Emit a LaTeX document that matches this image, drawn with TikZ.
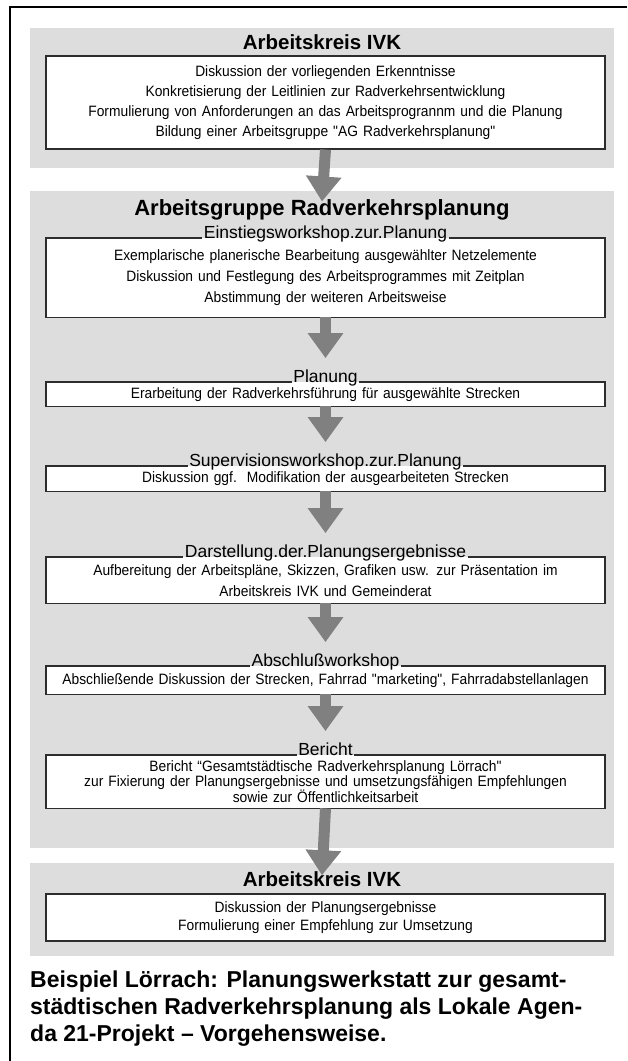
\documentclass[tikz,border=0pt]{standalone}
\usepackage{fontspec}
\setmainfont{Liberation Sans}
\newfontfamily\narrowsf{Liberation Sans}[FakeStretch=0.92]
\usetikzlibrary{arrows.meta}
\definecolor{panelgray}{RGB}{221,221,221}
\definecolor{arrowgray}{RGB}{128,128,128}
\definecolor{rimgray}{RGB}{45,45,45}
\tikzset{
 paneltitle/.style={font=\fontsize{#1}{24}\selectfont\bfseries,inner sep=0pt},
 paneltitle/.default=20.5,
 boxbase/.style={fill=white,text width=557pt,align=center,inner xsep=1pt,inner ysep=0pt,anchor=north,minimum height=#1},
 box/.style={boxbase=#1,draw=rimgray,line width=1.6pt},
 openbox/.style={boxbase=#1,draw=none},
 rim/.style={draw=rimgray,line width=1.6pt},
 body/.style={font=\narrowsf\fontsize{15}{#1}\selectfont},
 steplabel/.style={font=\fontsize{17.5}{19}\selectfont,anchor=base,inner xsep=1.5pt,inner ysep=0pt},
 blockarrow/.style={arrowgray,line width=11pt,-{Triangle[width=34pt,length=25pt]}}
}
\begin{document}
\begin{tikzpicture}[x=1pt,y=-1pt]
 \useasboundingbox (0,0) rectangle (627,1061);
 % Rahmen
 \draw[line width=2pt] (627,7) -- (10,7) -- (10,1061);
 % graue Felder
 \fill[panelgray] (30,28) rectangle (614,168);
 \fill[panelgray] (30,191) rectangle (614,848);
 \fill[panelgray] (30,863) rectangle (614,956);
 % Arbeitskreis IVK
 \node[paneltitle] (t1) at (322,42) {Arbeitskreis IVK};
 \node[box=93pt,body=20] (b1) at (325.5,55) {Diskussion der vorliegenden Erkenntnisse\\Konkretisierung der Leitlinien zur Radverkehrsentwicklung\\Formulierung von Anforderungen an das Arbeitsprogrannm und die Planung\\Bildung einer Arbeitsgruppe "AG Radverkehrsplanung"};
 % Arbeitsgruppe
 \node[paneltitle=22] (t2) at (322,210) {Arbeitsgruppe Radverkehrsplanung};
 \node[openbox=79pt,body=21] (b2) at (325.5,238) {Exemplarische planerische Bearbeitung ausgewählter Netzelemente\\Diskussion und Festlegung des Arbeitsprogrammes mit Zeitplan\\Abstimmung der weiteren Arbeitsweise};
 \node[steplabel] (l2) at (b2.north) {Einstiegsworkshop.zur.Planung};
 \node[openbox=24pt,body=15] (b3) at (325.5,382) {Erarbeitung der Radverkehrsführung für ausgewählte Strecken};
 \node[steplabel] (l3) at (b3.north) {Planung};
 \node[openbox=25pt,body=15] (b4) at (325.5,466) {Diskussion ggf.\ \ Modifikation der ausgearbeiteten Strecken};
 \node[steplabel] (l4) at (b4.north) {Supervisionsworkshop.zur.Planung};
 \node[openbox=46pt,body=21] (b5) at (325.5,557) {Aufbereitung der Arbeitspläne, Skizzen, Grafiken usw. zur Präsentation im\\Arbeitskreis IVK und Gemeinderat};
 \node[steplabel] (l5) at (b5.north) {Darstellung.der.Planungsergebnisse};
 \node[openbox=28pt,body=15] (b6) at (325.5,666) {Abschließende Diskussion der Strecken, Fahrrad "marketing", Fahrradabstellanlagen};
 \node[steplabel] (l6) at (b6.north) {Abschlußworkshop};
 \node[openbox=53pt,body=15] (b7) at (325.5,755) {Bericht “Gesamtstädtische Radverkehrsplanung Lörrach"\\zur Fixierung der Planungsergebnisse und umsetzungsfähigen Empfehlungen\\sowie zur Öffentlichkeitsarbeit};
 \node[steplabel] (l7) at (b7.north) {Bericht};
 \foreach \n in {2,...,7}
  \draw[rim] (l\n.base east) -- (b\n.north east) -- (b\n.south east) -- (b\n.south west) -- (b\n.north west) -- (l\n.base west);
 % Arbeitskreis IVK
 \node[paneltitle] (t3) at (322,879) {Arbeitskreis IVK};
 \node[box=47pt,body=18] (b8) at (325.5,893) {Diskussion der Planungsergebnisse\\Formulierung einer Empfehlung zur Umsetzung};
 % Pfeile
 \draw[blockarrow] (b1.south) -- ([yshift=-2pt]t2.north);
 \draw[blockarrow,shorten >=11pt] (b2.south) -- (l3.north);
 \draw[blockarrow,shorten >=11pt] (b3.south) -- (l4.north);
 \draw[blockarrow,shorten >=11pt] (b4.south) -- (l5.north);
 \draw[blockarrow,shorten >=11pt] (b5.south) -- (l6.north);
 \draw[blockarrow,shorten >=11pt] (b6.south) -- (l7.north);
 \draw[blockarrow] (b7.south) -- ([yshift=-4pt]t3.north);
 % Bildunterschrift
 \node[anchor=north west,align=left,inner sep=0pt,font=\fontsize{23}{27}\selectfont\bfseries] (cap) at (30,971) {Beispiel Lörrach: Planungswerkstatt zur gesamt-\\städtischen Radverkehrsplanung als Lokale Agen-\\da 21-Projekt – Vorgehensweise.};
\end{tikzpicture}
\end{document}
